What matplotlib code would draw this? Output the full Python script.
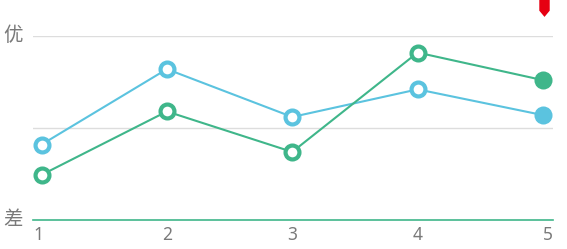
import matplotlib
matplotlib.use("Agg")
import matplotlib.pyplot as plt
from matplotlib.path import Path
import matplotlib.transforms as mtransforms

plt.rcParams['font.family'] = ['Noto Sans', 'Noto Sans CJK SC', 'DejaVu Sans']

categories = ['1', '2', '3', '4', '5']
blue_values = [41, 82, 56, 71, 57]
green_values = [24.5, 59, 37, 91, 76]
y_labels = ['差', '优']
y_label_values = [0, 100]

BLUE = '#5bc3df'
GREEN = '#3fb68a'

fig = plt.figure(figsize=(5.67, 2.49), dpi=100)
W, H = 567, 249
ax = fig.add_axes([33 / W, (249 - 220) / H, (553 - 33) / W, (220 - 36) / H])

xs = list(range(1, len(categories) + 1))
step_px = (543 - 41.5) / 4
xlim = (1 - 8.5 / step_px, 5 + 10 / step_px)
ax.set_xlim(*xlim)
ax.set_ylim(0, 100)

# grid lines
ax.axhline(100, color='#dddddd', lw=1, zorder=1)
ax.axhline(50, color='#dddddd', lw=1, zorder=1)
ax.axhline(0, color=GREEN, lw=1.2, zorder=1, clip_on=False)

for vals, col in [(blue_values, BLUE), (green_values, GREEN)]:
    ax.plot(xs, vals, color=col, lw=1.5, zorder=3, solid_capstyle='round')
    ax.plot(xs[:-1], vals[:-1], 'o', ms=10, mfc='white', mec=col, mew=3, zorder=4, clip_on=False)
    ax.plot(xs[-1:], vals[-1:], 'o', ms=13, mfc=col, mec=col, mew=0, zorder=4, clip_on=False)

# red pin marker above last point (cut off at top)
pin = Path([(-0.5, 1.0), (0.5, 1.0), (0.5, -0.4), (0.0, -1.0), (-0.5, -0.4), (-0.5, 1.0)],
           [Path.MOVETO, Path.LINETO, Path.LINETO, Path.LINETO, Path.LINETO, Path.CLOSEPOLY])
trans = mtransforms.blended_transform_factory(ax.transData, fig.transFigure)
ax.plot([xs[-1] + 1.5 / step_px], [1 - 6 / H], marker=pin, ms=15, color='#e60012', mew=0,
        transform=trans, clip_on=False, zorder=5)

for sp in ax.spines.values():
    sp.set_visible(False)
ax.set_xticks([])
ax.set_yticks([])

TXT = '#7a7a7a'
# x tick labels
tick_pos = [xlim[0]] + xs[1:-1] + [xlim[1]]
has = ['left'] + ['center'] * (len(xs) - 2) + ['right']
ttrans = mtransforms.blended_transform_factory(ax.transData, fig.transFigure)
for p, lab, ha in zip(tick_pos, categories, has):
    ax.text(p, 1 - 235 / H, lab, ha=ha, va='center', fontsize=12.5, color=TXT,
            fontweight='light', transform=ttrans)

for v, lab in zip(y_label_values, y_labels):
    ax.text(xlim[0] - 10 / step_px, v, lab, ha='right', va='center', fontsize=14,
            color=TXT, fontweight='light', clip_on=False)

fig.savefig('out.png', dpi=100)
